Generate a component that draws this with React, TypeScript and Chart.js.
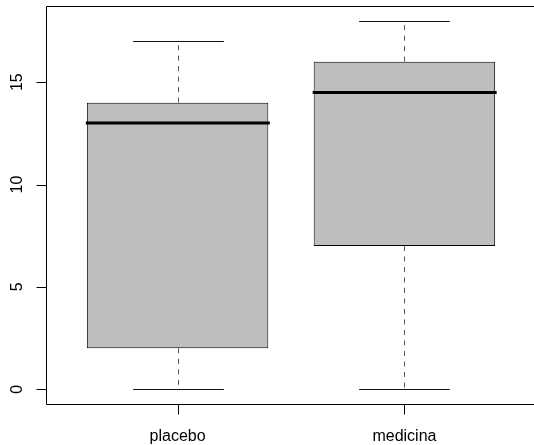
import React, { useEffect, useRef } from 'react';
import { Chart, registerables } from 'chart.js';

Chart.register(...registerables);

// ---- data ----
const categories = ['placebo', 'medicina'];
const minValues = [0, 0];
const q1Values = [2, 7];
const medianValues = [13, 14.5];
const q3Values = [14, 16];
const maxValues = [17, 18];
const yTickValues = [0, 5, 10, 15];
const xTickValues = [1, 2];

// R-style axis ranges (4% extension)
const X_MIN = 0.42;
const X_MAX = 2.58;
const Y_MIN = -0.72;
const Y_MAX = 18.72;

const FONT = '16px "Liberation Sans", Arial, Helvetica, sans-serif';

const boxPlotPlugin = {
  id: 'rBoxPlot',
  beforeDatasetsDraw(chart: any) {
    const ctx = chart.ctx;
    const xs = chart.scales.x;
    const ys = chart.scales.y;
    ctx.save();
    categories.forEach((_, i) => {
      const xc = Math.round(xs.getPixelForValue(i + 1)) + 0.5;
      const half = xs.getPixelForValue(i + 1 + 0.2) - xs.getPixelForValue(i + 1);
      // dashed whiskers
      ctx.strokeStyle = '#555555';
      ctx.lineWidth = 1;
      ctx.setLineDash([5, 5.5]);
      ctx.beginPath();
      ctx.moveTo(xc, ys.getPixelForValue(q3Values[i]));
      ctx.lineTo(xc, ys.getPixelForValue(maxValues[i]));
      ctx.stroke();
      ctx.beginPath();
      ctx.moveTo(xc, ys.getPixelForValue(q1Values[i]));
      ctx.lineTo(xc, ys.getPixelForValue(minValues[i]));
      ctx.stroke();
      // staples
      ctx.setLineDash([]);
      ctx.strokeStyle = '#111111';
      [minValues[i], maxValues[i]].forEach((v) => {
        const y = Math.round(ys.getPixelForValue(v)) + 0.5;
        ctx.beginPath();
        ctx.moveTo(xc - half, y);
        ctx.lineTo(xc + half, y);
        ctx.stroke();
      });
    });
    ctx.restore();
  },
  afterDatasetsDraw(chart: any) {
    const ctx = chart.ctx;
    const xs = chart.scales.x;
    const ys = chart.scales.y;
    const area = chart.chartArea;
    ctx.save();
    // medians
    ctx.strokeStyle = '#000000';
    ctx.lineWidth = 3;
    categories.forEach((_, i) => {
      const x0 = xs.getPixelForValue(i + 1 - 0.4);
      const x1 = xs.getPixelForValue(i + 1 + 0.4);
      const y = ys.getPixelForValue(medianValues[i]);
      ctx.beginPath();
      ctx.moveTo(x0 - 1, y);
      ctx.lineTo(x1 + 1.5, y);
      ctx.stroke();
    });
    // frame (left, top, bottom; right lies beyond the view)
    ctx.lineWidth = 1;
    ctx.beginPath();
    const L = Math.round(area.left) + 0.5;
    const T = Math.round(area.top) + 0.5;
    const B = Math.round(area.bottom) + 0.5;
    ctx.moveTo(area.right + 10, T);
    ctx.lineTo(L, T);
    ctx.lineTo(L, B);
    ctx.lineTo(area.right + 10, B);
    ctx.stroke();
    // y ticks + labels
    ctx.font = FONT;
    ctx.fillStyle = '#000000';
    yTickValues.forEach((v) => {
      const y = Math.round(ys.getPixelForValue(v)) + 0.5;
      ctx.beginPath();
      ctx.moveTo(L - 10, y);
      ctx.lineTo(L, y);
      ctx.stroke();
      ctx.save();
      ctx.translate(22, ys.getPixelForValue(v));
      ctx.rotate(-Math.PI / 2);
      ctx.textAlign = 'center';
      ctx.textBaseline = 'alphabetic';
      ctx.fillText(String(v), 0, 0);
      ctx.restore();
    });
    // x ticks + labels
    xTickValues.forEach((v, i) => {
      const x = Math.round(xs.getPixelForValue(v)) + 0.5;
      ctx.beginPath();
      ctx.moveTo(x, B);
      ctx.lineTo(x, B + 10);
      ctx.stroke();
      ctx.textAlign = 'center';
      ctx.textBaseline = 'alphabetic';
      ctx.fillText(categories[i], xs.getPixelForValue(v), 441);
    });
    ctx.restore();
  },
};

export default function App() {
  const canvasRef = useRef<HTMLCanvasElement | null>(null);

  useEffect(() => {
    if (!canvasRef.current) return;
    const chart = new Chart(canvasRef.current, {
      type: 'bar',
      data: {
        datasets: [
          {
            data: categories.map((_, i) => ({ x: i + 1, y: [q1Values[i], q3Values[i]] })) as any,
            backgroundColor: '#BEBEBE',
            borderColor: '#000000',
            borderWidth: 1,
            borderSkipped: false,
            barPercentage: 0.8,
            categoryPercentage: 1,
          },
        ],
      },
      options: {
        responsive: false,
        animation: false,
        devicePixelRatio: 1,
        layout: { padding: { left: 46, top: 6, right: 4, bottom: 41 } },
        plugins: { legend: { display: false }, tooltip: { enabled: false } },
        scales: {
          x: {
            type: 'linear',
            display: false,
            offset: false,
            min: X_MIN,
            max: X_MAX,
            afterBuildTicks: (scale: any) => {
              scale.ticks = xTickValues.map((v) => ({ value: v }));
            },
          },
          y: {
            type: 'linear',
            display: false,
            min: Y_MIN,
            max: Y_MAX,
            afterBuildTicks: (scale: any) => {
              scale.ticks = yTickValues.map((v) => ({ value: v }));
            },
          },
        },
      },
      plugins: [boxPlotPlugin],
    });
    return () => chart.destroy();
  }, []);

  return (
    <div
      style={{
        position: 'absolute',
        left: 0,
        top: 0,
        width: 534,
        height: 445,
        overflow: 'hidden',
        background: '#ffffff',
      }}
    >
      <canvas ref={canvasRef} width={540} height={445} style={{ display: 'block' }} />
    </div>
  );
}
